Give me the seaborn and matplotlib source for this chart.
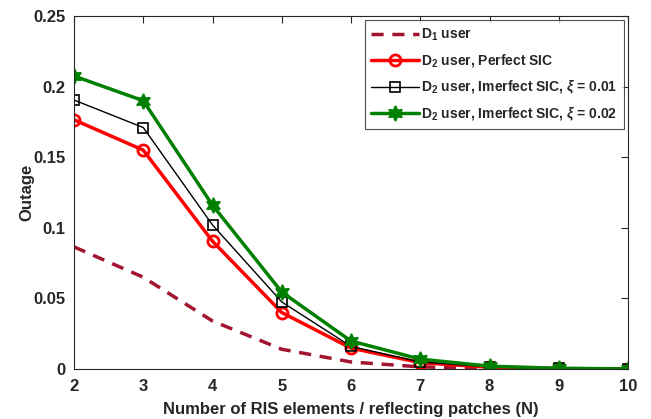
import matplotlib
matplotlib.use("Agg")
import matplotlib.pyplot as plt
import seaborn as sns
import pandas as pd

N = [2, 3, 4, 5, 6, 7, 8, 9, 10]
d1_user = [0.0865, 0.065, 0.034, 0.014, 0.005, 0.0015, 0.0004, 0.0001, 0.0]
d2_perfect = [0.1765, 0.155, 0.0905, 0.040, 0.0148, 0.0045, 0.0013, 0.0003, 0.0001]
d2_imp_001 = [0.1905, 0.171, 0.102, 0.0475, 0.016, 0.005, 0.0015, 0.0004, 0.0001]
d2_imp_002 = [0.2075, 0.190, 0.116, 0.0545, 0.0198, 0.007, 0.002, 0.0005, 0.0001]

labels = [r"$\mathbf{D_1}$ user",
          r"$\mathbf{D_2}$ user, Perfect SIC",
          r"$\mathbf{D_2}$ user, Imerfect SIC, $\xi$ = 0.01",
          r"$\mathbf{D_2}$ user, Imerfect SIC, $\xi$ = 0.02"]

sns.set_style("white")
plt.rcParams['font.family'] = ['Liberation Sans', 'DejaVu Sans']
plt.rcParams['font.weight'] = 'bold'
plt.rcParams['mathtext.fontset'] = 'custom'
plt.rcParams['mathtext.rm'] = 'Liberation Sans:bold'
plt.rcParams['mathtext.bf'] = 'Liberation Sans:bold'
plt.rcParams['mathtext.it'] = 'Liberation Sans:bold:italic'

fig = plt.figure(figsize=(6.51, 4.19), dpi=100)
ax = fig.add_axes([0.1137, 0.1193, 0.851, 0.8425])

df = pd.DataFrame({"N": N, "d1": d1_user, "p": d2_perfect, "i1": d2_imp_001, "i2": d2_imp_002})

sns.lineplot(data=df, x="N", y="d1", ax=ax, color="#a2142f", lw=2.5,
             linestyle=(0, (3.5, 2.5)), label=labels[0])
sns.lineplot(data=df, x="N", y="p", ax=ax, color="#ff0000", lw=2.5, marker="o",
             markersize=8, markerfacecolor="none", markeredgecolor="#ff0000",
             markeredgewidth=2, label=labels[1])
sns.lineplot(data=df, x="N", y="i1", ax=ax, color="black", lw=1, marker="s",
             markersize=6.5, markerfacecolor="none", markeredgecolor="black",
             markeredgewidth=1.2, label=labels[2])
sns.lineplot(data=df, x="N", y="i2", ax=ax, color="#008000", lw=2.5, marker=(6, 1, 0),
             markersize=11, markerfacecolor="#008000", markeredgecolor="#008000",
             markeredgewidth=1.2, label=labels[3])

ax.set_xlim(2, 10)
ax.set_ylim(0, 0.25)
ax.set_xticks(N)
ax.set_xticklabels([str(n) for n in N])
ax.set_yticks([0, 0.05, 0.1, 0.15, 0.2, 0.25])
ax.set_yticklabels(["0", "0.05", "0.1", "0.15", "0.2", "0.25"])
ax.tick_params(axis='both', direction='in', length=5, width=0.8, colors='#262626',
               labelsize=12, top=True, right=True)
ax.tick_params(axis='x', pad=7)
ax.tick_params(axis='y', pad=6)
for lab in ax.get_xticklabels() + ax.get_yticklabels():
    lab.set_fontweight('bold')
for s in ax.spines.values():
    s.set_color('#262626')
    s.set_linewidth(0.8)
ax.set_xlabel("Number of RIS elements / reflecting patches (N)", fontsize=12,
              fontweight='bold', color='#262626', labelpad=6)
ax.set_ylabel("Outage", fontsize=12, fontweight='bold', color='#262626', labelpad=-1)

leg = ax.legend(loc='upper right', fontsize=10, frameon=True, fancybox=False,
                edgecolor='#262626', handlelength=3.4, borderaxespad=0.3,
                labelspacing=0.68, handletextpad=0.2, borderpad=0.45)
leg.get_frame().set_linewidth(0.8)
for t in leg.get_texts():
    t.set_fontweight('bold')

fig.savefig("out.png", dpi=100)
